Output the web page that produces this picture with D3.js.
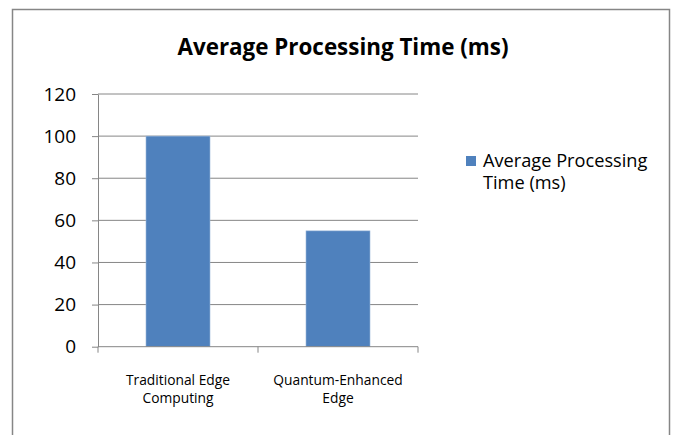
<!DOCTYPE html>
<html><head><meta charset="utf-8">
<script src="https://cdn.jsdelivr.net/npm/d3@7"></script>
<style>body{margin:0;background:#fff;} svg{display:block;}</style>
</head><body>
<script>
const categories = [["Traditional Edge","Computing"],["Quantum-Enhanced","Edge"]];
const categoryKeys = ["Traditional Edge Computing","Quantum-Enhanced Edge"];
const values = [100, 55];
const yTicks = [0,20,40,60,80,100,120];
const seriesName = ["Average Processing","Time (ms)"];
const title = "Average Processing Time (ms)";

const W=677,H=435;
const svg=d3.select("body").append("svg").attr("width",W).attr("height",H);
const font="'Open Sans', Lato, sans-serif";
svg.append("rect").attr("x",12.5).attr("y",9.5).attr("width",657).attr("height",440)
  .attr("fill","#fff").attr("stroke","#868686").attr("stroke-width",1.5);

const x=d3.scaleBand().domain(categoryKeys).range([98,418]).paddingInner(0.6).paddingOuter(0.3);
const y=d3.scaleLinear().domain([0,120]).range([346.7,94]);

// gridlines
svg.append("g").selectAll("line").data(yTicks.filter(d=>d>0)).join("line")
  .attr("x1",98).attr("x2",418).attr("y1",d=>y(d)).attr("y2",d=>y(d))
  .attr("stroke","#868686").attr("stroke-width",1);

// bars
svg.append("g").selectAll("rect").data(values).join("rect")
  .attr("x",(d,i)=>x(categoryKeys[i])).attr("width",x.bandwidth())
  .attr("y",d=>y(d)).attr("height",d=>y(0)-y(d))
  .attr("fill","#4F81BD").attr("stroke","#9bb7da").attr("stroke-width",0.6);

// y axis
const ya=svg.append("g").attr("transform","translate(98,0)")
  .call(d3.axisLeft(y).tickValues(yTicks).tickSize(6).tickPadding(16).tickSizeOuter(0));
ya.select(".domain").attr("stroke","#868686");
ya.selectAll(".tick line").attr("stroke","#868686");
ya.selectAll("text").attr("font-family",font).attr("font-size",19).attr("fill","#000");

// x axis
const xa=svg.append("g").attr("transform",`translate(0,${y(0)})`);
xa.append("line").attr("x1",98).attr("x2",418).attr("y1",0).attr("y2",0).attr("stroke","#868686");
const edges=[98].concat(categoryKeys.map(k=>x(k)-x.step()*x.paddingInner()/2+x.step()));
xa.selectAll("line.t").data(edges).join("line").attr("class","t")
  .attr("x1",d=>d).attr("x2",d=>d).attr("y1",0).attr("y2",6).attr("stroke","#868686");
const lbl=xa.selectAll("text").data(categories).join("text")
  .attr("x",(d,i)=>x(categoryKeys[i])+x.bandwidth()/2).attr("y",38)
  .attr("text-anchor","middle").attr("font-family",font).attr("font-size",13.8).attr("fill","#000");
lbl.selectAll("tspan").data(d=>d).join("tspan")
  .attr("x",function(){return this.parentNode.getAttribute("x");})
  .attr("dy",(d,i)=>i?18:0).text(d=>d);

// title
svg.append("text").attr("x",343).attr("y",55).attr("text-anchor","middle")
  .attr("font-family",font).attr("font-weight","bold").attr("font-size",22.4).attr("fill","#000").text(title);

// legend
svg.append("rect").attr("x",466).attr("y",156).attr("width",10).attr("height",10).attr("fill","#4F81BD");
svg.append("text").attr("font-family",font).attr("font-size",18.2).attr("fill","#000")
  .selectAll("tspan").data(seriesName).join("tspan").attr("x",483).attr("y",(d,i)=>167+i*22).text(d=>d);
</script>
</body></html>
